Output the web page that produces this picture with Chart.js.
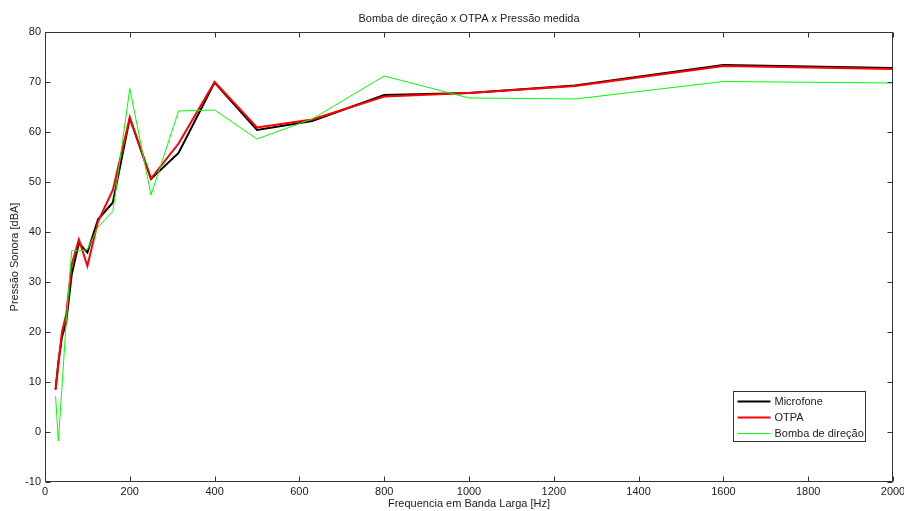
<!DOCTYPE html>
<html>
<head>
<meta charset="utf-8">
<script src="https://cdn.jsdelivr.net/npm/chart.js@4"></script>
<style>
html,body{margin:0;padding:0;background:#fff;}
canvas{display:block;}
</style>
</head>
<body>
<canvas id="c" width="904" height="511"></canvas>
<script>
const titleText = "Bomba de direção x OTPA x Pressão medida";
const xTitle = "Frequencia em Banda Larga [Hz]";
const yTitle = "Pressão Sonora [dBA]";

const freqs = [25, 31.5, 40, 50, 63, 80, 100, 125, 160, 200, 250, 315, 400, 500, 630, 800, 1000, 1250, 1600, 2000];
const microfone = [8.6, 14.0, 19.0, 22.0, 31.5, 37.8, 35.9, 42.5, 45.9, 62.8, 50.6, 55.8, 69.9, 60.4, 62.2, 67.4, 67.8, 69.3, 73.4, 72.8];
const otpa = [8.4, 13.5, 20.0, 23.5, 33.5, 38.5, 33.2, 42.1, 48.4, 62.9, 50.7, 57.7, 70.0, 60.9, 62.5, 67.1, 67.8, 69.2, 73.2, 72.6];
const bomba = [7.2, -1.8, 9.0, 22.0, 36.3, 36.2, 36.5, 41.0, 44.1, 68.7, 47.4, 64.2, 64.4, 58.6, 62.6, 71.2, 66.8, 66.6, 70.1, 69.8];

const xTicks = [0, 200, 400, 600, 800, 1000, 1200, 1400, 1600, 1800, 2000];
const yTicks = [-10, 0, 10, 20, 30, 40, 50, 60, 70, 80];

const FONT = "Arial, 'Liberation Sans', sans-serif";

function pts(ys){ return freqs.map((f,i)=>({x:f, y:ys[i]})); }

const deco = {
  id: 'deco',
  afterDraw(chart){
    const ctx = chart.ctx, a = chart.chartArea;
    const xs = chart.scales.x, ys = chart.scales.y;
    ctx.save();
    ctx.strokeStyle = '#333';
    ctx.lineWidth = 1;
    const L = Math.round(a.left)+0.5, R = Math.round(a.right)-0.5, T = Math.round(a.top)+0.5, B = Math.round(a.bottom)-0.5;
    ctx.beginPath();
    ctx.rect(L, T, R-L, B-T);
    ctx.stroke();
    ctx.beginPath();
    xTicks.forEach(v=>{
      const px = Math.round(xs.getPixelForValue(v))+0.5;
      ctx.moveTo(px, B); ctx.lineTo(px, B-5);
      ctx.moveTo(px, T); ctx.lineTo(px, T+5);
    });
    yTicks.forEach(v=>{
      const py = Math.round(ys.getPixelForValue(v))+0.5;
      ctx.moveTo(L, py); ctx.lineTo(L+5, py);
      ctx.moveTo(R, py); ctx.lineTo(R-5, py);
    });
    ctx.stroke();

    // titles
    ctx.fillStyle = '#222';
    ctx.font = '11px ' + FONT;
    ctx.textAlign = 'center';
    ctx.textBaseline = 'middle';
    const cx = (a.left + a.right)/2;
    ctx.fillText(titleText, cx, 19);
    ctx.fillText(xTitle, cx, 504);
    ctx.save();
    ctx.translate(15, (a.top + a.bottom)/2);
    ctx.rotate(-Math.PI/2);
    ctx.fillText(yTitle, 0, 0);
    ctx.restore();

    // legend
    const lx = 733.5, ly = 391.5, lw = 132, lh = 50;
    ctx.fillStyle = '#fff';
    ctx.fillRect(lx, ly, lw, lh);
    ctx.strokeStyle = '#333';
    ctx.strokeRect(lx, ly, lw, lh);
    ctx.textAlign = 'left';
    [0,1,2].forEach((di, k)=>{
      const ds = chart.data.datasets[di];
      const y = ly + 10 + k*16;
      ctx.strokeStyle = ds.borderColor;
      ctx.lineWidth = ds.borderWidth;
      ctx.beginPath();
      ctx.moveTo(lx+4, y); ctx.lineTo(lx+37, y);
      ctx.stroke();
      ctx.fillStyle = '#222';
      ctx.fillText(ds.label, lx+41, y);
    });
    ctx.restore();
  }
};

new Chart(document.getElementById('c'), {
  type: 'line',
  data: {
    datasets: [
      {label:'Microfone', data: pts(microfone), borderColor:'#000000', borderWidth:2, order:2},
      {label:'OTPA', data: pts(otpa), borderColor:'#ff0000', borderWidth:2, order:1},
      {label:'Bomba de direção', data: pts(bomba), borderColor:'#00ff00', borderWidth:1, order:0}
    ]
  },
  options: {
    responsive: false,
    devicePixelRatio: 1,
    animation: false,
    elements: { point: { radius: 0 }, line: { tension: 0 } },
    layout: { padding: { top: 32, right: 0, left: 0, bottom: 0 } },
    plugins: { legend: { display: false }, title: { display: false }, tooltip: { enabled: false } },
    scales: {
      x: {
        type: 'linear', min: 0, max: 2000,
        afterBuildTicks: s => { s.ticks = xTicks.map(v=>({value:v})); },
        ticks: { color:'#222', font:{ size: 11, family: FONT }, padding: 3, maxRotation: 0, autoSkip: false, callback: v => String(v) },
        grid: { display: true, drawOnChartArea: false, drawTicks: false },
        border: { display: false },
        afterFit: s => { s.height = 29; s.paddingRight = 11; }
      },
      y: {
        type: 'linear', min: -10, max: 80,
        afterBuildTicks: s => { s.ticks = yTicks.map(v=>({value:v})); },
        ticks: { color:'#222', font:{ size: 11, family: FONT }, padding: 4, autoSkip: false },
        grid: { display: true, drawOnChartArea: false, drawTicks: false },
        border: { display: false },
        afterFit: s => { s.width = 45; }
      }
    }
  },
  plugins: [deco]
});
</script>
</body>
</html>
